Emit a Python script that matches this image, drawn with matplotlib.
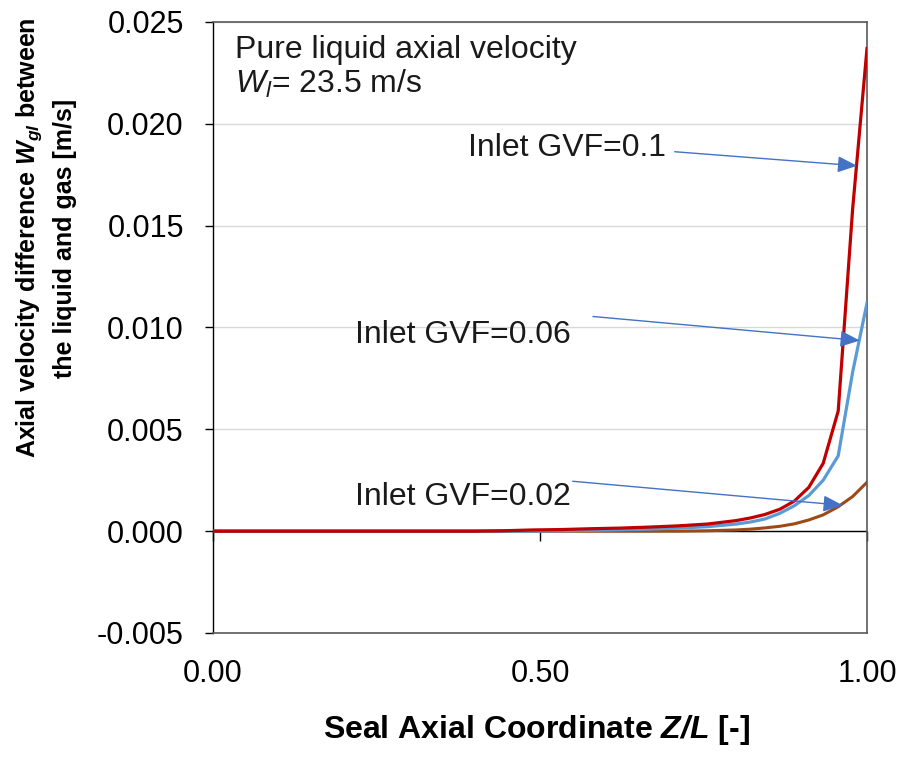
import numpy as np
import matplotlib
matplotlib.use('Agg')
import matplotlib.pyplot as plt

plt.rcParams['font.family'] = 'Liberation Sans'
plt.rcParams['mathtext.fontset'] = 'custom'
plt.rcParams['mathtext.rm'] = 'Liberation Sans'
plt.rcParams['mathtext.it'] = 'Liberation Sans:italic'
plt.rcParams['mathtext.bf'] = 'Liberation Sans:bold'
plt.rcParams['mathtext.bfit'] = 'Liberation Sans:italic:bold'

# --- dados ---
z_l = [0.0, 0.400, 0.444, 0.489, 0.533, 0.578, 0.622, 0.667, 0.711, 0.756,
       0.800, 0.822, 0.844, 0.867, 0.889, 0.911, 0.933, 0.956, 0.978, 1.000]

w_gvf_002 = [0.0, 0.0, 0.0, 0.0, 0.0, 0.0, 0.0, 0.0, 0.0, 0.00002,
             0.00006, 0.00010, 0.00016, 0.00024, 0.00036, 0.00055, 0.00080, 0.00120, 0.00170, 0.00240]
w_gvf_006 = [0.0, 0.0, 0.0, 0.0, 0.00002, 0.00004, 0.00007, 0.00010, 0.00015, 0.00022,
             0.00035, 0.00045, 0.00060, 0.00088, 0.00125, 0.00175, 0.00250, 0.00370, 0.00780, 0.01120]
w_gvf_01 = [0.0, 0.0, 0.00002, 0.00006, 0.00008, 0.00012, 0.00015, 0.00020, 0.00026, 0.00035,
            0.00052, 0.00065, 0.00082, 0.00108, 0.00148, 0.00215, 0.00333, 0.00590, 0.01580, 0.02370]

x_ticks = [0.0, 0.5, 1.0]
y_ticks = [-0.005, 0.0, 0.005, 0.010, 0.015, 0.020, 0.025]

# rótulos das setas: texto, posição do texto, início e ponta da seta
rotulos = ['Inlet GVF=0.1', 'Inlet GVF=0.06', 'Inlet GVF=0.02']
pos_texto = [(0.390, 0.01843), (0.217, 0.00922), (0.217, 0.00127)]
seta_inicio = [(0.706, 0.01863), (0.581, 0.01054), (0.550, 0.00245)]
seta_ponta = [(0.985, 0.01794), (0.989, 0.00936), (0.963, 0.00127)]

# ============================================================================
fig = plt.figure(figsize=(9.05, 7.61), dpi=100)
ax = fig.add_axes([0.2354, 0.1682, 0.9580 - 0.2354, 0.9711 - 0.1682])

cor_borda = '#595959'
ax.set_xlim(0, 1)
ax.set_ylim(-0.005, 0.025)

ax.set_yticks(y_ticks)
ax.set_yticklabels([f'{v:.3f}' for v in y_ticks])
ax.set_xticks(x_ticks)
ax.set_xticklabels([f'{v:.2f}' for v in x_ticks])

ax.grid(axis='y', color='#d9d9d9', linewidth=1)
ax.set_axisbelow(True)

for lado in ['top', 'right', 'bottom']:
    ax.spines[lado].set_color(cor_borda)
    ax.spines[lado].set_linewidth(1.2)
ax.spines['left'].set_color('black')
ax.spines['left'].set_linewidth(1)

ax.tick_params(axis='y', direction='out', length=6, width=1, color='black',
               labelsize=22, pad=15)
ax.tick_params(axis='x', length=0, labelsize=22, pad=19)

# eixo horizontal em y = 0 com marcas para baixo
ax.axhline(0, color='black', linewidth=1, zorder=1.5)
ax.plot(x_ticks, [0, 0, 0], linestyle='none', marker=3, markersize=7,
        markeredgewidth=1, color='black', zorder=1.5, clip_on=False)

ax.plot(z_l, w_gvf_002, color='#9e4a17', linewidth=2.2, zorder=2)
ax.plot(z_l, w_gvf_006, color='#5b9bd5', linewidth=2.3, zorder=3)
ax.plot(z_l, w_gvf_01, color='#c00000', linewidth=2.3, zorder=4)

for txt, pt, p0, p1 in zip(rotulos, pos_texto, seta_inicio, seta_ponta):
    ax.text(pt[0], pt[1], txt, fontsize=23, ha='left', va='baseline', color='#1a1a1a', zorder=6)
    ax.annotate('', xy=p1, xytext=p0,
                arrowprops=dict(arrowstyle='-|>,head_length=0.6,head_width=0.25',
                                mutation_scale=20, color='#4472c4', lw=1,
                                shrinkA=0, shrinkB=0), zorder=6)

# caixa de texto superior
fig.text(235 / 905, 1 - 58 / 761, 'Pure liquid axial velocity', fontsize=23,
         ha='left', va='baseline', color='#1a1a1a')
fig.text(235 / 905, 1 - 93 / 761, r'$W_l$= 23.5 m/s', fontsize=23,
         ha='left', va='baseline', color='#1a1a1a')

fig.text(45.5 / 905, 1 - 238 / 761,
         'Axial velocity difference $\\mathbfit{W}_{\\mathbfit{gl}}$ between\nthe liquid and gas [m/s]',
         rotation=90, fontsize=18, fontweight='bold', ha='center', va='center',
         multialignment='center', linespacing=1.45)
fig.text(536 / 905, 1 - 738 / 761, 'Seal Axial Coordinate $\\mathbfit{Z/L}$ [-]',
         fontsize=23, fontweight='bold', ha='center', va='baseline')

fig.savefig('out.png', dpi=100, facecolor='white')
